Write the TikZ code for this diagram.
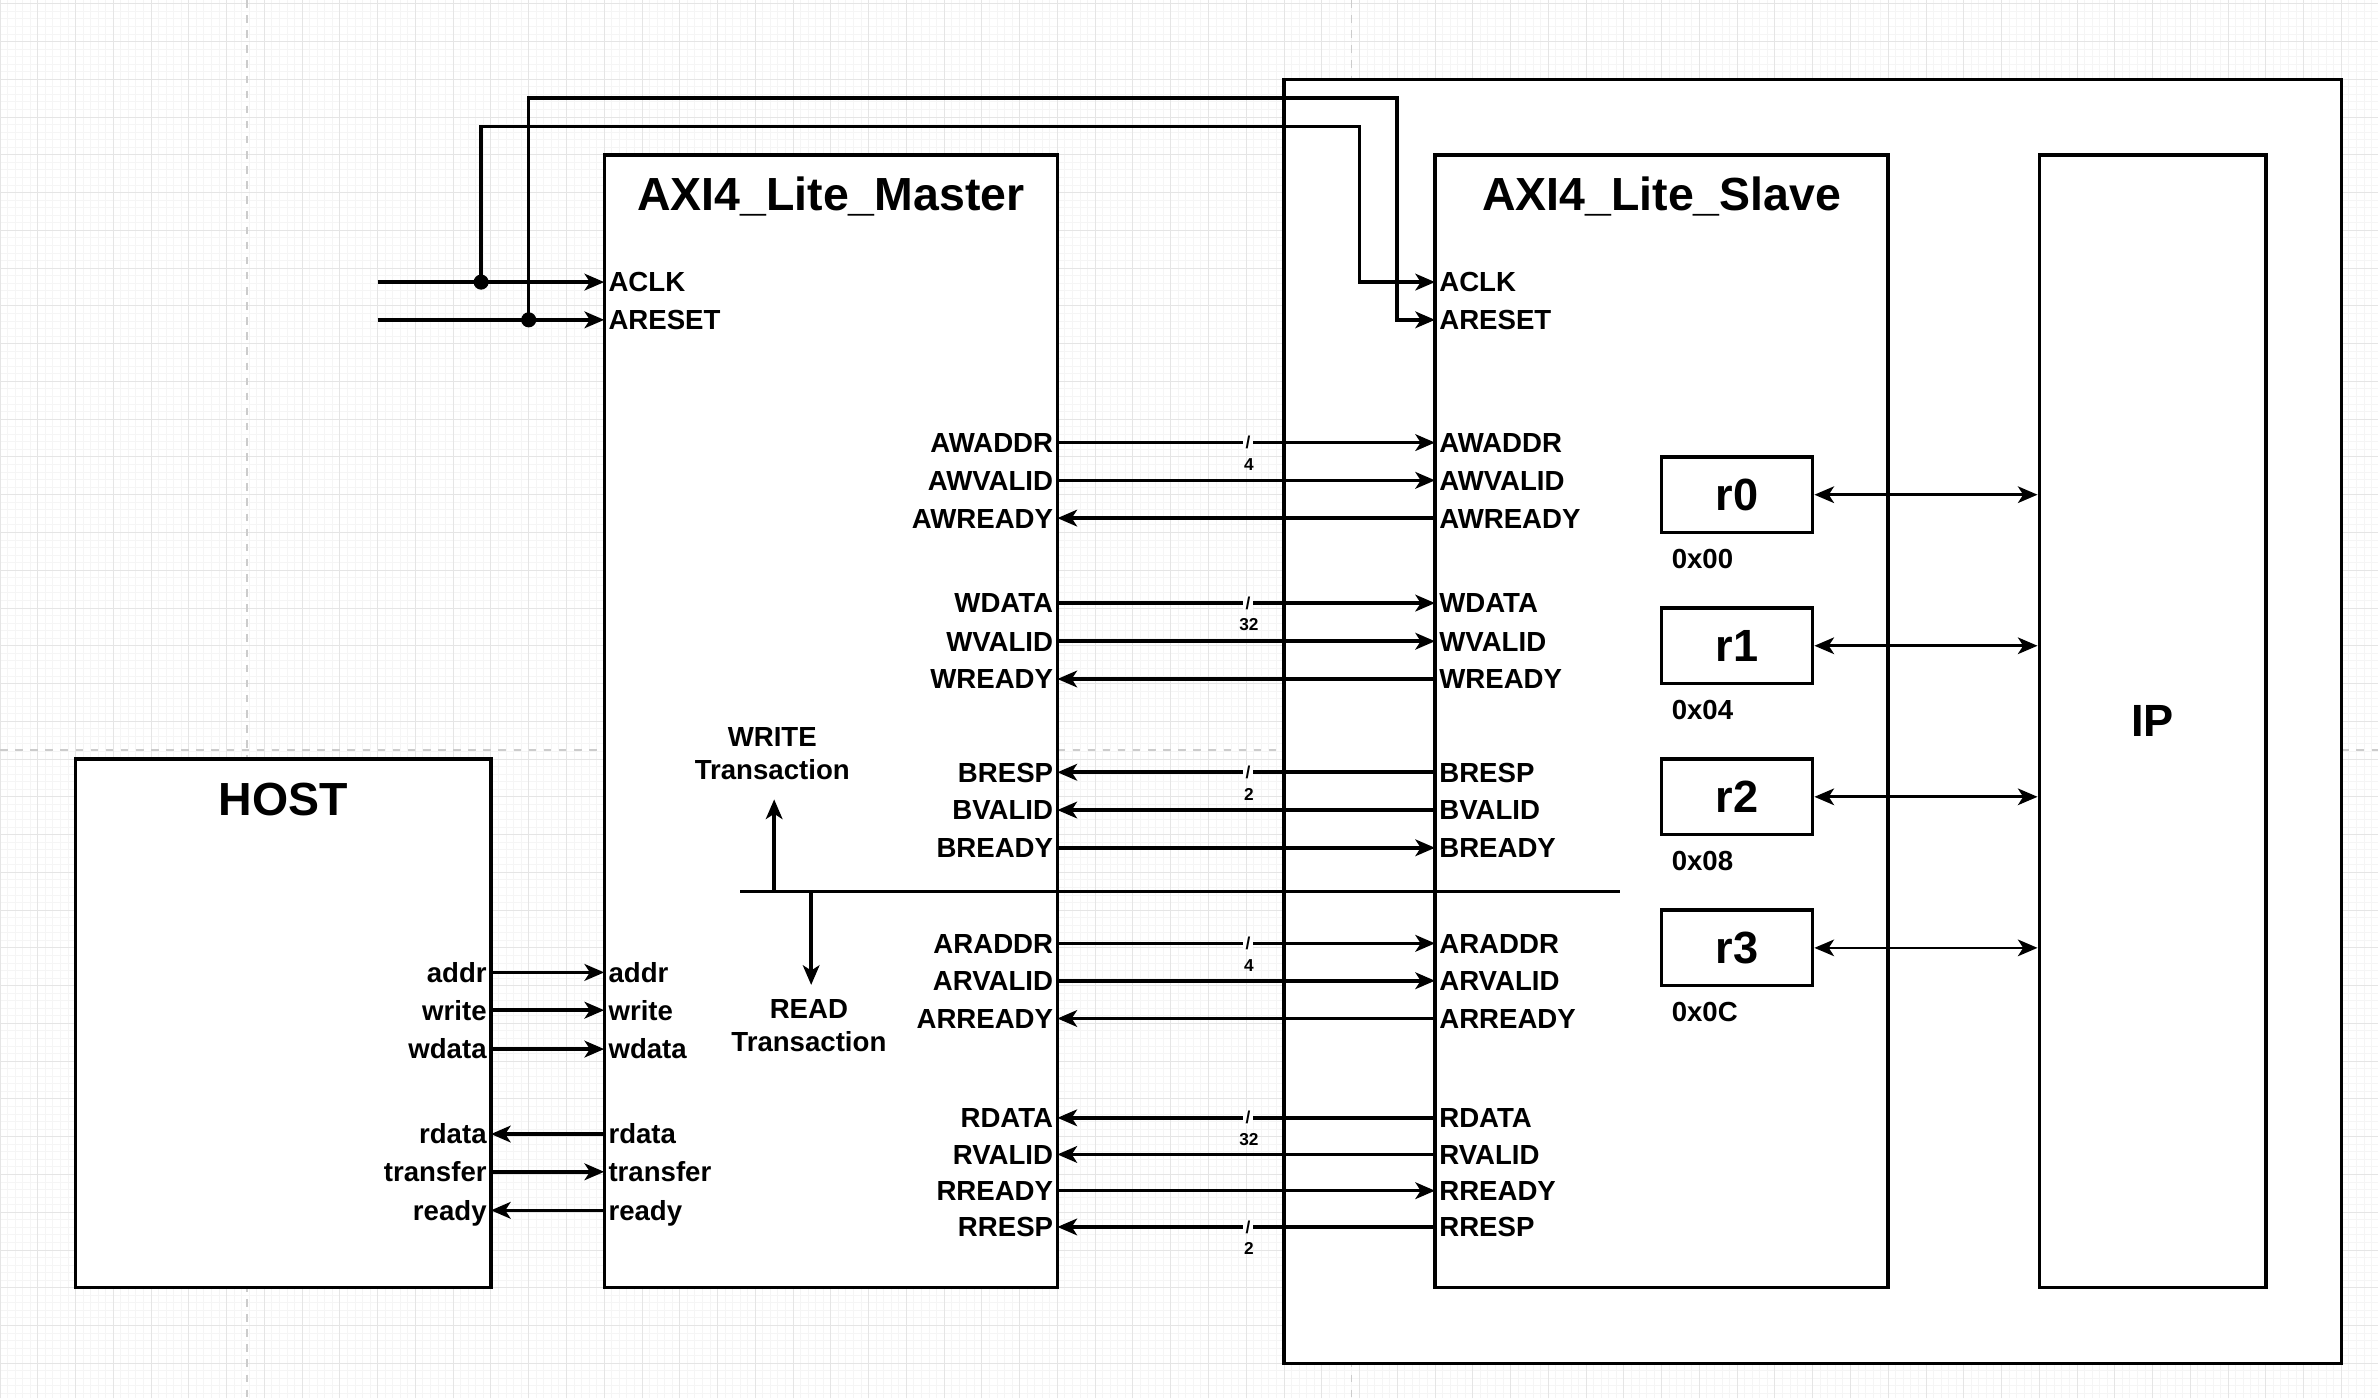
\documentclass[tikz,border=0pt]{standalone}
\usepackage{fontspec}
\setmainfont{Liberation Sans}
\usetikzlibrary{arrows.meta}
\usetikzlibrary{positioning}
\usetikzlibrary{calc}

\begin{document}
\begin{tikzpicture}[
      x = 5mm, y = -5mm,
      >={Stealth[length = 2.6mm, width = 2.2mm, inset = 0.7mm]},
      block/.style = { draw = black, line width = 1.3pt, fill = white, inner sep = 0pt },
      title/.style = { font = \fontsize{17.5}{20}\selectfont\bfseries, anchor = base, inner sep = 0pt },
      port/.style = {
        font = \fontsize{10.4}{12}\selectfont\bfseries,
        text height = 2.62mm, text depth = 0pt,
        inner xsep = 0.5mm, inner ysep = 0pt
      },
      portl/.style = { port, anchor = west },
      portr/.style = { port, anchor = east },
      trans/.style = { font = \fontsize{10.4}{12.5}\selectfont\bfseries, align = center, inner sep = 0pt },
      reg/.style = { block, minimum width = 20mm, minimum height = 10mm, font = \fontsize{17}{20}\selectfont\bfseries },
      slash/.style = { font = \fontsize{6.5}{7}\selectfont\bfseries, fill = white, inner xsep = 0.9pt, inner ysep = 0.3pt },
      buswd/.style = { font = \fontsize{6.5}{7}\selectfont\bfseries, inner sep = 0pt },
      joint/.style = { circle, fill = black, inner sep = 0pt, minimum size = 2mm },
      wire/.style = { line width = 1.35pt },
      tr/.style = { wire, -> },
      rx/.style = { wire, <- },
      bus/.style = { line width = 1pt, <-> },
    ]

    \useasboundingbox (0,-0.1) rectangle (62.97,36.93);
    \fill[white] (0,-0.1) rectangle (62.97,36.93);
    \draw[black!4, line width = 0.35pt, step = 1mm] (0,-0.1) grid (62.97,36.93);
    \draw[black!10, line width = 0.35pt, step = 5mm] (0,-0.1) grid (62.97,36.93);
    \draw[black!20, line width = 0.5pt, dash pattern = on 1mm off 1mm]
      (6.54,-0.1) -- (6.54,36.93) (35.78,-0.1) -- (35.78,36.93) (0,19.76) -- (62.97,19.76);

    % blocks
    \node[block, minimum width = 140mm, minimum height = 170mm] (wrap) at (48,19) {};
    \node[block, minimum width = 55mm, minimum height = 70mm] (host) at (7.5,27) {};
    \node[block, minimum width = 60mm, minimum height = 150mm] (master) at (22,19) {};
    \node[block, minimum width = 60mm, minimum height = 150mm] (slave) at (44,19) {};
    \node[block, minimum width = 30mm, minimum height = 150mm,
      font = \fontsize{17}{20}\selectfont\bfseries] (ip) at (57,19) {IP};

    \node[title] (host-t) at ($(host.north) + (0,1.55)$) {HOST};
    \node[title] (master-t) at ($(master.north) + (0,1.53)$) {AXI4\_Lite\_Master};
    \node[title] (slave-t) at ($(slave.north) + (0,1.53)$) {AXI4\_Lite\_Slave};

    % registers
    \foreach \i/\a in {0/00, 1/04, 2/08, 3/0C} {
      \node[reg] (r\i) at (46,{13+4*\i}) {r\i};
      \node[port, anchor = west, inner xsep = 0pt] (a\i) at ($(r\i.south west) + (0.3,0.64)$) {0x\a};
      \draw[bus] (r\i.east) -- (r\i.east -| ip.west);
    }

    % clock and reset
    \coordinate (clk-in) at (10,7.37);
    \coordinate (rst-in) at (10,8.37);
    \coordinate (m-ACLK) at (16,7.37);
    \coordinate (m-ARESET) at (16,8.37);
    \coordinate (s-ACLK) at (38,7.37);
    \coordinate (s-ARESET) at (38,8.37);
    \coordinate (clk-top) at (36,3.25);
    \coordinate (rst-top) at (37,2.5);
    \node[joint] (clk-dot) at (12.74,7.37) {};
    \node[joint] (rst-dot) at (14,8.37) {};
    \foreach \sig in {ACLK, ARESET} {
      \node[portl] (ml-\sig) at (m-\sig) {\sig};
      \node[portl] (sl-\sig) at (s-\sig) {\sig};
    }
    \draw[tr] (clk-in) -- (m-ACLK);
    \draw[tr] (rst-in) -- (m-ARESET);
    \draw[tr] (clk-dot.center) |- (clk-top) |- (s-ACLK);
    \draw[tr] (rst-dot.center) |- (rst-top) |- (s-ARESET);

    % master <-> slave
    \foreach \sig/\yy/\dir in {
      AWADDR/11.62/tr, AWVALID/12.62/tr, AWREADY/13.62/rx,
      WDATA/15.87/tr, WVALID/16.88/tr, WREADY/17.88/rx,
      BRESP/20.35/rx, BVALID/21.35/rx, BREADY/22.35/tr,
      ARADDR/24.88/tr, ARVALID/25.87/tr, ARREADY/26.87/rx,
      RDATA/29.5/rx, RVALID/30.47/rx, RREADY/31.43/tr, RRESP/32.39/rx} {
      \coordinate (m-\sig) at (28,\yy);
      \coordinate (s-\sig) at (38,\yy);
      \node[portr] (ml-\sig) at (m-\sig) {\sig};
      \node[portl] (sl-\sig) at (s-\sig) {\sig};
      \draw[\dir] (m-\sig) -- (s-\sig);
    }
    \foreach \sig/\w in {AWADDR/4, WDATA/32, BRESP/2, ARADDR/4, RDATA/32, RRESP/2} {
      \node[slash] (bw-\sig) at ($(m-\sig)!0.505!(s-\sig)$) {/};
      \node[buswd] (n-\sig) at ($(bw-\sig) + (0.02,0.58)$) {\w};
    }

    % host <-> master
    \foreach \sig/\yy/\dir in {
      addr/25.65/tr, write/26.65/tr, wdata/27.68/tr,
      rdata/29.93/rx, transfer/30.93/tr, ready/31.95/rx} {
      \coordinate (h-\sig) at (13,\yy);
      \coordinate (mh-\sig) at (16,\yy);
      \node[portr] (hl-\sig) at (h-\sig) {\sig};
      \node[portl] (mhl-\sig) at (mh-\sig) {\sig};
      \draw[\dir] (h-\sig) -- (mh-\sig);
    }

    % write / read split
    \coordinate (sep-l) at (19.6,23.51);
    \coordinate (sep-r) at (42.9,23.51);
    \coordinate (wsplit) at (20.5,23.51);
    \coordinate (rsplit) at (21.48,23.51);
    \node[trans] (wr-t) at (20.45,19.86) {WRITE\\Transaction};
    \node[trans] (rd-t) at (21.42,27.05) {READ\\Transaction};
    \draw[wire] (sep-l) -- (sep-r);
    \draw[tr, shorten > = 2.5mm] (wsplit) -- (wsplit |- wr-t.south);
    \draw[tr, shorten > = 1.8mm] (rsplit) -- (rsplit |- rd-t.north);
  \end{tikzpicture}
\end{document}
